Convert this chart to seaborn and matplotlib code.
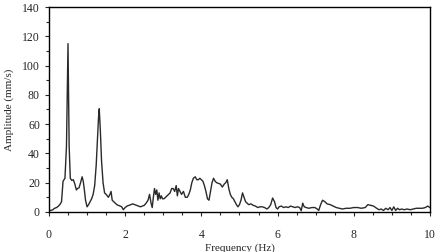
import matplotlib
matplotlib.use("Agg")
import matplotlib.pyplot as plt
import seaborn as sns
import pandas as pd
from matplotlib.ticker import MultipleLocator

# 0 - 2 Hz
freq_low = [0.0, 0.05, 0.1, 0.15, 0.2, 0.25, 0.3, 0.33, 0.37, 0.42,
            0.46, 0.5, 0.53, 0.56, 0.6, 0.64, 0.68, 0.72, 0.75, 0.79,
            0.83, 0.87, 0.9, 0.93, 0.96, 1.0, 1.04, 1.08, 1.12, 1.16,
            1.2, 1.24, 1.27, 1.3, 1.32, 1.35, 1.38, 1.42, 1.46, 1.5,
            1.53, 1.56, 1.6, 1.63, 1.66, 1.7, 1.74, 1.78, 1.82, 1.87,
            1.91, 1.95, 2.0]
amp_low = [1, 1, 1.5, 2.5, 3, 4, 5.5, 7, 21, 23,
           45, 115, 45, 23, 21.5, 22, 19, 15, 16, 16.5,
           20, 24, 21, 15, 8, 3.5, 5, 7, 9, 12,
           18, 32, 48, 64, 70.5, 55, 35, 20, 13, 12,
           11, 10, 12, 14, 8, 7, 6, 5, 4.5, 4,
           3.5, 1.5, 3]

# 2 - 5 Hz
freq_mid = [2.05, 2.1, 2.15, 2.2, 2.25, 2.3, 2.35, 2.4, 2.45, 2.5,
            2.55, 2.6, 2.64, 2.68, 2.71, 2.74, 2.77, 2.8, 2.83, 2.86,
            2.89, 2.92, 2.95, 2.98, 3.02, 3.06, 3.1, 3.14, 3.18, 3.22,
            3.26, 3.3, 3.34, 3.37, 3.4, 3.44, 3.48, 3.53, 3.58, 3.63,
            3.67, 3.71, 3.75, 3.79, 3.84, 3.88, 3.92, 3.96, 4.0, 4.04,
            4.08, 4.12, 4.16, 4.2, 4.24, 4.28, 4.32, 4.36, 4.4, 4.45,
            4.5, 4.55, 4.6, 4.64, 4.68, 4.72, 4.76, 4.8, 4.84, 4.88,
            4.92, 4.96, 5.0]
amp_mid = [4, 4.5, 5, 5.5, 5, 4.5, 4, 3.5, 4, 4.5,
           6, 8, 12, 6, 3, 10, 16, 12, 15, 8,
           13, 9, 11, 9, 9, 10, 11, 12, 13, 16,
           16, 14, 18, 11, 16, 14, 12, 14, 10, 10,
           12, 15, 20, 23, 24, 22, 22, 23, 22, 21,
           18, 14, 9, 8, 14, 20, 23, 21, 20, 19.5,
           19, 17, 19, 20, 22, 16, 12, 10, 9, 7,
           5, 3.5, 5]

# 5 - 10 Hz
freq_high = [5.04, 5.08, 5.12, 5.16, 5.2, 5.24, 5.3, 5.36, 5.42, 5.48,
             5.54, 5.6, 5.66, 5.72, 5.77, 5.82, 5.87, 5.92, 5.96, 6.0,
             6.04, 6.1, 6.16, 6.22, 6.28, 6.34, 6.4, 6.46, 6.52, 6.58,
             6.62, 6.66, 6.7, 6.75, 6.82, 6.9, 6.98, 7.04, 7.08, 7.13,
             7.18, 7.24, 7.3, 7.38, 7.46, 7.54, 7.62, 7.7, 7.8, 7.9,
             8.0, 8.1, 8.2, 8.3, 8.37, 8.45, 8.52, 8.6, 8.66, 8.72,
             8.78, 8.84, 8.9, 8.95, 9.0, 9.05, 9.1, 9.15, 9.2, 9.26,
             9.32, 9.4, 9.48, 9.56, 9.64, 9.72, 9.8, 9.88, 9.94, 10.0]
amp_high = [8, 13, 10, 7, 6, 5, 5.5, 4.5, 4, 3,
            3.5, 3.5, 3, 2, 3, 5, 9.5, 7, 3, 2,
            3.5, 4, 3, 3.5, 3, 4, 3.5, 3, 3.5, 3,
            0.8, 6, 3.5, 3, 2.5, 3, 3, 2, 1, 5,
            8, 7, 5.5, 5, 4, 3, 2.5, 2, 2.5, 2.5,
            3, 3, 2.5, 3, 5, 4.5, 4, 2.5, 1.5, 2,
            1, 2.5, 1.5, 3, 1, 3.5, 1, 2.5, 1.5, 2,
            1.5, 2, 1.5, 2, 2.5, 2.5, 2.5, 3, 4, 3]

x_ticks = [0, 2, 4, 6, 8, 10]
y_ticks = [0, 20, 40, 60, 80, 100, 120, 140]

sns.set_style("ticks")
plt.rcParams['font.family'] = ['Liberation Serif', 'DejaVu Serif']
plt.rcParams['font.size'] = 8

df = pd.DataFrame({
    "Frequency (Hz)": freq_low + freq_mid + freq_high,
    "Amplitude (mm/s)": amp_low + amp_mid + amp_high,
})

fig = plt.figure(figsize=(4.41, 2.52), dpi=100)
ax = fig.add_axes([0.111, 0.159, 0.864, 0.813])
sns.lineplot(data=df, x="Frequency (Hz)", y="Amplitude (mm/s)", ax=ax,
             color="#2a2a2a", linewidth=1.0)
ax.set_xlim(0, 10)
ax.set_ylim(0, 140)
ax.set_xticks(x_ticks)
ax.set_yticks(y_ticks)
ax.xaxis.set_minor_locator(MultipleLocator(0.5))
ax.yaxis.set_minor_locator(MultipleLocator(10))
ax.tick_params(which='major', direction='out', length=3, width=0.8, labelsize=8.5)
ax.tick_params(which='minor', direction='out', length=2, width=0.8)
ax.tick_params(axis='x', pad=9)
for s in ax.spines.values():
    s.set_linewidth(1.0)
    s.set_color('black')
ax.set_xlabel("Frequency (Hz)", fontsize=8, labelpad=2)
ax.set_ylabel("Amplitude (mm/s)", fontsize=8, labelpad=6)
fig.savefig("out.png", dpi=100)
